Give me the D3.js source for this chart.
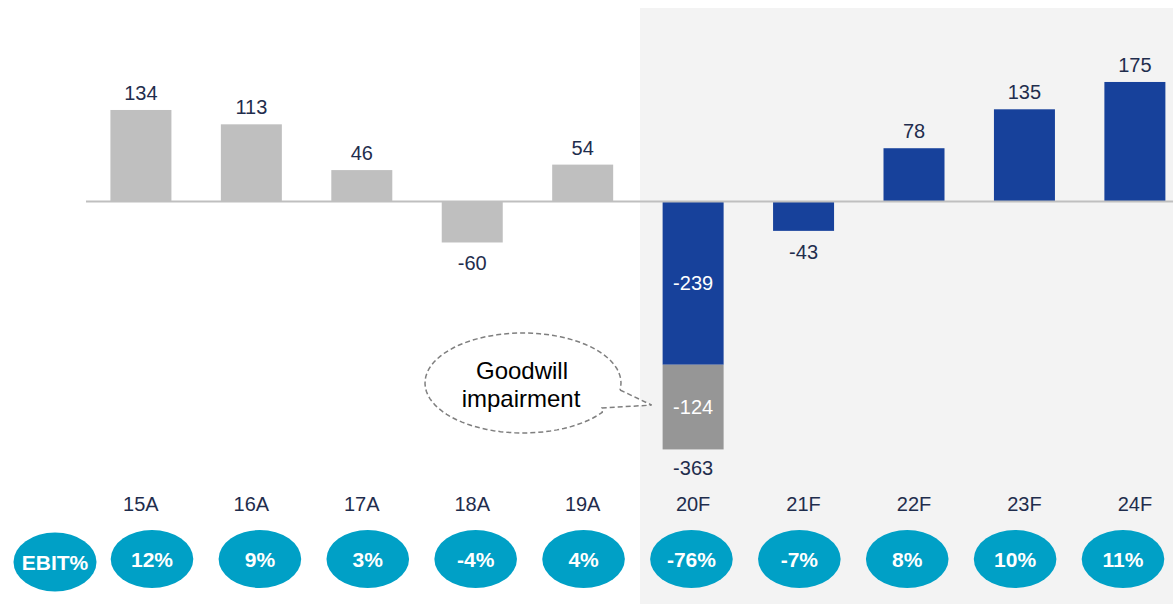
<!DOCTYPE html>
<html><head><meta charset="utf-8">
<script src="https://cdn.jsdelivr.net/npm/d3@7"></script>
<style>html,body{margin:0;padding:0;background:#fff}svg{display:block;font-family:"Liberation Sans",Arial,sans-serif}</style>
</head><body>
<svg id="c" width="1173" height="604"></svg>
<script>
const categories = ["15A","16A","17A","18A","19A","20F","21F","22F","23F","24F"];
const ebitValues = [134,113,46,-60,54,-239,-43,78,135,175];
const goodwillValues = [0,0,0,0,0,-124,0,0,0,0];
const totalLabels = [null,null,null,null,null,-363,null,null,null,null];
const forecast = [false,false,false,false,false,true,true,true,true,true];
const ebitMargin = ["12%","9%","3%","-4%","4%","-76%","-7%","8%","10%","11%"];

const svg = d3.select("#c");
const W = 1173, H = 604;
const x = d3.scaleBand().domain(categories).range([85.7, 1190.1]).paddingInner(0.4477).paddingOuter(0.2238);
const y = d3.scaleLinear().domain([-400, 200]).range([474.7, 64.9]);
const xe = d3.scalePoint().domain(categories).range([152, 1123]);

const labelColor = "#1f2d4d";
// forecast shaded region
const firstF = categories[forecast.indexOf(true)];
const shadeX = x(firstF) - 22.6;
svg.append("rect").attr("x", shadeX).attr("y", 8).attr("width", W - shadeX).attr("height", H - 8).attr("fill", "#f3f3f3");

const data = categories.map((c, i) => ({c, v: ebitValues[i], g: goodwillValues[i], t: totalLabels[i], f: forecast[i], m: ebitMargin[i]}));

// main bars
svg.selectAll(".bar").data(data).enter().append("rect")
  .attr("x", d => x(d.c)).attr("width", x.bandwidth())
  .attr("y", d => y(Math.max(0, d.v))).attr("height", d => Math.abs(y(d.v) - y(0)))
  .attr("fill", d => d.f ? "#17419b" : "#bfbfbf");
// goodwill stacked
svg.selectAll(".gw").data(data.filter(d => d.g !== 0)).enter().append("rect")
  .attr("x", d => x(d.c)).attr("width", x.bandwidth())
  .attr("y", d => y(d.v)).attr("height", d => y(d.v + d.g) - y(d.v))
  .attr("fill", "#969696");

// zero line
svg.append("line").attr("x1", 86).attr("x2", W).attr("y1", y(0)).attr("y2", y(0))
  .attr("stroke", "#bfbfbf").attr("stroke-width", 2);

// value labels
data.forEach(d => {
  const cx = x(d.c) + x.bandwidth() / 2;
  if (d.g !== 0) {
    svg.append("text").attr("x", cx).attr("y", (y(0) + y(d.v)) / 2 + 7).attr("text-anchor", "middle")
      .attr("font-size", 20).attr("fill", "#fff").text(d.v);
    svg.append("text").attr("x", cx).attr("y", (y(d.v) + y(d.v + d.g)) / 2 + 7).attr("text-anchor", "middle")
      .attr("font-size", 20).attr("fill", "#fff").text(d.g);
    svg.append("text").attr("x", cx).attr("y", y(d.v + d.g) + 26).attr("text-anchor", "middle")
      .attr("font-size", 20).attr("fill", labelColor).text(d.t);
  } else if (d.v >= 0) {
    svg.append("text").attr("x", cx).attr("y", y(d.v) - 10).attr("text-anchor", "middle")
      .attr("font-size", 20).attr("fill", labelColor).text(d.v);
  } else {
    svg.append("text").attr("x", cx).attr("y", y(d.v) + 28).attr("text-anchor", "middle")
      .attr("font-size", 20).attr("fill", labelColor).text(d.v);
  }
});

// category labels
svg.selectAll(".cat").data(data).enter().append("text")
  .attr("x", d => x(d.c) + x.bandwidth() / 2).attr("y", 511).attr("text-anchor", "middle")
  .attr("font-size", 20).attr("fill", labelColor).text(d => d.c);

// EBIT% ellipses
const ell = svg.append("g");
ell.append("ellipse").attr("cx", xe(categories[0]) - 97).attr("cy", 562).attr("rx", 41.5).attr("ry", 29.5).attr("fill", "#00a0c6");
ell.append("text").attr("x", xe(categories[0]) - 97).attr("y", 570).attr("text-anchor", "middle")
  .attr("font-size", 21).attr("font-weight", "bold").attr("fill", "#fff").text("EBIT%");
ell.selectAll(".e").data(data).enter().append("ellipse")
  .attr("cx", d => xe(d.c)).attr("cy", 559).attr("rx", 41.3).attr("ry", 29).attr("fill", "#00a0c6");
ell.selectAll(".et").data(data).enter().append("text")
  .attr("x", d => xe(d.c)).attr("y", 567).attr("text-anchor", "middle")
  .attr("font-size", 21).attr("font-weight", "bold").attr("fill", "#fff").text(d => d.m);

// Goodwill callout
const gwBar = data.find(d => d.g !== 0);
const tipX = x(gwBar.c) - 11, tipY = (y(gwBar.v) + y(gwBar.v + gwBar.g)) / 2 - 2;
const cx0 = 523, cy0 = 383, rx = 98, ry = 50;
const a1 = Math.asin((390 - cy0) / ry), a2 = Math.asin((408 - cy0) / ry);
const p1 = [cx0 + rx * Math.cos(a1), cy0 + ry * Math.sin(a1)];
const p2 = [cx0 + rx * Math.cos(a2) - 6, cy0 + ry * Math.sin(a2)];
const path = d3.path();
path.moveTo(p1[0], p1[1]);
path.lineTo(tipX, tipY);
path.lineTo(p2[0], p2[1]);
const aStart = Math.atan2((p2[1] - cy0) / ry, (p2[0] - cx0) / rx);
const aEnd = a1 + 2 * Math.PI;
for (let k = 1; k <= 80; k++) {
  const a = aStart + (aEnd - aStart) * k / 80;
  path.lineTo(cx0 + rx * Math.cos(a), cy0 + ry * Math.sin(a));
}
svg.append("path").attr("d", path.toString()).attr("fill", "#fff").attr("stroke", "#7f7f7f")
  .attr("stroke-width", 1.5).attr("stroke-dasharray", "5,3");
svg.append("text").attr("x", 522).attr("y", 379).attr("text-anchor", "middle").attr("font-size", 24).attr("fill", "#000").text("Goodwill");
svg.append("text").attr("x", 521).attr("y", 407).attr("text-anchor", "middle").attr("font-size", 24).attr("fill", "#000").text("impairment");
</script>
</body></html>
